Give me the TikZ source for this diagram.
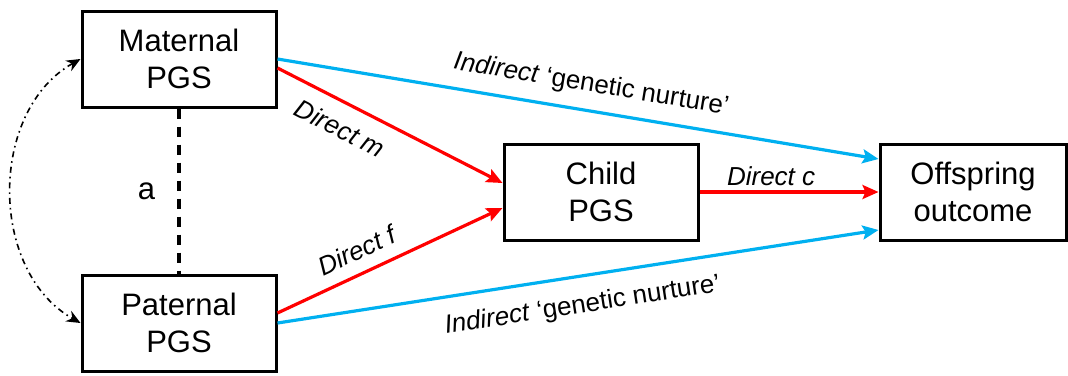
\documentclass[tikz,border=0pt]{standalone}
\usepackage{fontspec}
\setmainfont{Liberation Sans}
\usepackage{xcolor}
\usetikzlibrary{arrows.meta}

\definecolor{directred}{RGB}{255,0,0}
\definecolor{nurtureblue}{RGB}{0,176,240}

\begin{document}
\begin{tikzpicture}[x=0.5pt,y=-0.5pt,every node/.style={inner sep=0pt},
	pgsbox/.style={draw,line width=1.5pt,align=center,minimum width=97pt,minimum height=48pt,font=\fontsize{15.5}{18.5}\selectfont},
	lbl/.style={font=\fontsize{13}{15}\selectfont},
	direct/.style={draw=directred,line width=1.6pt,-{Stealth[length=8pt,width=7pt,inset=1.5pt]}},
	nurture/.style={draw=nurtureblue,line width=1.6pt,-{Stealth[length=8pt,width=7pt,inset=1.5pt]}},
	corr/.style={line width=0.8pt,dash dot,{Stealth[length=7pt,width=6pt]}-{Stealth[length=7pt,width=6pt]}}]
				\useasboundingbox (0,0) rectangle (1068,375);
				%parents on the left, child in the middle, outcome on the right
				\node[pgsbox] (mat) at (179, 59){Maternal\\PGS};
				\node[pgsbox] (pat) at (179, 323){Paternal\\PGS};
				\node[pgsbox] (chi) at (601, 192){Child\\PGS};
				\node[pgsbox,minimum width=93pt] (off) at (973, 192){Offspring\\outcome};

				%% assortment between the parents
				\draw[line width=2pt,dash pattern=on 5pt off 4pt] (mat)--(pat) node[midway,left=11pt,font=\fontsize{15.5}{18.5}\selectfont]{a};
				\draw[corr] (mat.west) .. controls +(-92,52) and +(-92,-52) .. (pat.west);

				%% direct paths
				\draw[direct] ([yshift=-4.5pt]mat.east)--([yshift=4.5pt]chi.west) node[lbl,pos=.33,sloped,below=7pt]{\textit{Direct m}};
				\draw[direct] ([yshift=5pt]pat.east)--([yshift=-8pt]chi.west) node[lbl,pos=.4,sloped,above=6pt]{\textit{Direct f}};
				\draw[direct] (chi)--(off) node[lbl,pos=.4,above=2.5pt]{\textit{Direct c}};

				%% indirect paths
				\draw[nurture] (mat.east)--([yshift=16.5pt]off.west) node[lbl,pos=.515,sloped,above=6pt]{\textit{Indirect} ‘genetic nurture’};
				\draw[nurture] (pat.east)--([yshift=-19pt]off.west) node[lbl,pos=.5,sloped,below=8pt]{\textit{Indirect} ‘genetic nurture’};
				\end{tikzpicture}
\end{document}
